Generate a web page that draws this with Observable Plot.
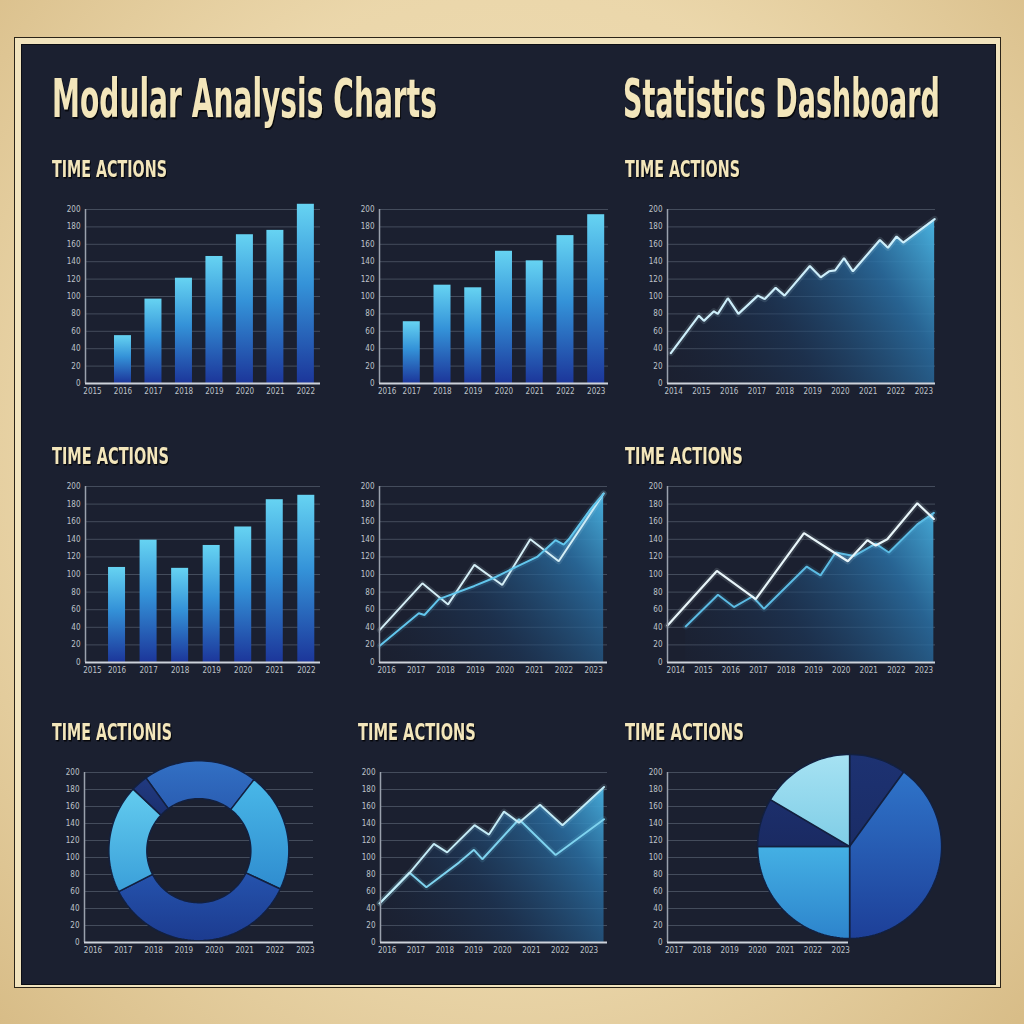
<!DOCTYPE html>
<html><head><meta charset="utf-8">
<script src="https://cdn.jsdelivr.net/npm/d3@7"></script>
<script src="https://cdn.jsdelivr.net/npm/@observablehq/plot@0.6"></script>
<style>
html,body{margin:0;padding:0;}
body{width:1024px;height:1024px;position:relative;overflow:hidden;background:#e6d1a4;}
#paper{position:absolute;left:0;top:0;width:1024px;height:1024px;
 background:radial-gradient(ellipse at 50% 45%, rgba(242,226,188,0.95) 0%, rgba(236,216,172,0.8) 60%, rgba(214,186,132,0.9) 100%), #e6d1a4;}
#outer{position:absolute;left:14px;top:37px;width:985px;height:949px;background:#f1e3bd;border:1.5px solid #2b2418;}
#panel{position:absolute;left:21px;top:44px;width:973px;height:939px;background:#1b2030;border:1.5px solid #0c0e14;}
.chart{position:absolute;}
#texts{position:absolute;left:0;top:0;pointer-events:none;}
</style></head>
<body>
<div id="paper"></div>
<div id="outer"></div>
<div id="panel"></div>
<script>
// ---------------- DATA ----------------
const titles = ["Modular Analysis Charts", "Statistics Dashboard"];
const headings = ["TIME ACTIONS", "TIME ACTIONS", "TIME ACTIONS", "TIME ACTIONS", "TIME ACTIONIS", "TIME ACTIONS", "TIME ACTIONS"];
const yTicks = [0, 20, 40, 60, 80, 100, 120, 140, 160, 180, 200];

const labels8a = ["2015", "2016", "2017", "2018", "2019", "2020", "2021", "2022"];
const labels8b = ["2016", "2017", "2018", "2019", "2020", "2021", "2022", "2023"];
const labels10 = ["2014", "2015", "2016", "2017", "2018", "2019", "2020", "2021", "2022", "2023"];
const labels7 = ["2017", "2018", "2019", "2020", "2021", "2022", "2023"];

// bar charts (bars sit at label positions 1..7)
const barPos = [1, 2, 3, 4, 5, 6, 7];
const bars1 = [55, 97, 121, 146, 171, 176, 206];
const bars2 = [71, 113, 110, 152, 141, 170, 194];
const bars4 = [108, 139, 107, 133, 154, 185, 190];

// line chart top-right
const line3T = [-0.1, 0.91, 1.09, 1.45, 1.59, 1.95, 2.33, 3.03, 3.28, 3.67, 3.99, 4.9, 5.29, 5.59, 5.81, 6.13, 6.45, 7.42, 7.71, 8.02, 8.26, 9.39];
const line3V = [35, 78, 72, 83, 80, 98, 80, 101, 97, 110, 101, 135, 122, 129, 130, 144, 129, 165, 156, 169, 162, 189];

// line chart middle
const line5aT = [-0.23, 1.21, 2.08, 2.97, 3.91, 4.86, 5.82, 7.34];
const line5aV = [37, 90, 66, 111, 88, 140, 115, 192];
const line5bT = [-0.23, 1.09, 1.28, 1.77, 2.97, 3.62, 4.47, 5.09, 5.71, 5.99, 6.16, 6.87, 7.34];
const line5bV = [19, 56, 54, 72, 87, 96, 110, 120, 139, 134, 140, 173, 192];

// line chart middle-right
const line6aT = [-0.3, 1.49, 2.9, 4.65, 5.74, 6.24, 6.95, 7.25, 7.67, 8.76, 9.36];
const line6aV = [42, 104, 72, 147, 125, 115, 139, 133, 140, 181, 163];
const line6bT = [0.36, 1.53, 2.11, 2.78, 3.2, 4.75, 5.25, 5.8, 6.46, 7.25, 7.73, 8.76, 9.36];
const line6bV = [41, 77, 63, 75, 61, 109, 99, 125, 121, 135, 125, 157, 170];

// line chart bottom-middle
const line8aT = [-0.26, 0.78, 1.62, 2.08, 3.03, 3.53, 4.05, 4.57, 5.3, 6.08, 7.52];
const line8aV = [46, 82, 116, 106, 138, 127, 154, 141, 162, 138, 183];
const line8bT = [-0.26, 0.78, 1.36, 2.49, 3.01, 3.3, 4.57, 5.84, 7.52];
const line8bV = [46, 82, 65, 94, 109, 98, 145, 103, 145];

// donut (percent shares, clockwise from start angle)
const donutShares = [20.5, 21.5, 35.5, 19.5, 3];
const donutColors = [["#3270c4", "#2a5db2"], ["#49b8e8", "#2f8ccf"], ["#2553ad", "#1c3b8f"], ["#63ccef", "#3a9fd9"], ["#213a80", "#1b3070"]];
// pie
const pieShares = [10, 40, 25, 8.5, 16.5];
const pieColors = [["#1d3272", "#1a2c66"], ["#2f74c9", "#1d3f98"], ["#44b0e4", "#2d84cc"], ["#1c2f6c", "#1a2a62"], ["#a6e2f3", "#7fcde6"]];

// ---------------- HELPERS ----------------
const svgNS = "http://www.w3.org/2000/svg";
const FONT = "'Liberation Sans Narrow','DejaVu Sans Condensed','Liberation Sans',sans-serif";
const toPts = (T, V) => T.map((t, i) => ({t, v: V[i]}));

function makeChart(cfg) {
  const [L, T, R, B] = cfg.frame;
  const ml = 44, mt = 14, mr = cfg.mr ?? 12, mb = 22;
  const width = R - L + ml + mr, height = B - T + mt + mb;
  const [x0, x1] = cfg.xDomain;
  const fx = {L: ml, R: width - mr, T: mt, B: height - mb, pxX: (R - L) / (x1 - x0), pxY: (B - T) / 200};
  const labelMap = new Map(cfg.xTicks.map((d, i) => [d, cfg.xLabels[i]]));
  const defsMark = () => {
    const g = document.createElementNS(svgNS, "g");
    g.innerHTML = `<defs>${cfg.defs ? cfg.defs(fx) : ""}</defs>`;
    return g;
  };
  const plot = Plot.plot({
    width, height,
    marginLeft: ml, marginTop: mt, marginRight: mr, marginBottom: mb,
    style: {background: "transparent", color: "#bfc3ca", fontFamily: FONT, fontSize: "8px", overflow: "visible"},
    x: {domain: cfg.xDomain, label: null},
    y: {domain: [0, 200], label: null},
    marks: [
      defsMark,
      Plot.gridY(yTicks, {stroke: "#444c5c", strokeOpacity: 1, strokeWidth: 1}),
      ...cfg.marks(fx),
      Plot.ruleX([x0], {stroke: "#9aa1ad", strokeWidth: 1.5}),
      Plot.ruleY([0], {stroke: "#cdd2da", strokeWidth: 2}),
      Plot.axisY(yTicks, {tickSize: 0, tickPadding: 5, fill: "#bfc3ca"}),
      Plot.axisX(cfg.xTicks, {tickSize: 0, tickPadding: 5, fill: "#bfc3ca", tickFormat: d => labelMap.get(d)})
    ]
  });
  const div = document.createElement("div");
  div.className = "chart";
  div.style.left = (L - ml) + "px";
  div.style.top = (T - mt) + "px";
  div.appendChild(plot);
  document.body.appendChild(div);
}

const barGrad = id => `<linearGradient id="bar-${id}" x1="0" y1="0" x2="0" y2="1">
  <stop offset="0" stop-color="#66d3f2"/><stop offset="0.45" stop-color="#3492d8"/><stop offset="1" stop-color="#1c369a"/></linearGradient>`;
const areaGrad = (id, fx) => `<linearGradient id="area-${id}" gradientUnits="userSpaceOnUse" x1="${fx.L}" y1="${fx.B}" x2="${fx.R}" y2="${fx.T}">
  <stop offset="0" stop-color="#1c2b45" stop-opacity="0"/><stop offset="0.4" stop-color="#1e4068" stop-opacity="0.5"/>
  <stop offset="0.75" stop-color="#2a6fa3" stop-opacity="0.85"/><stop offset="1" stop-color="#4cb9e6" stop-opacity="1"/></linearGradient>`;
const sliceGrads = (id, colors) => colors.map((c, i) => `<linearGradient id="sl-${id}-${i}" x1="0" y1="0" x2="0" y2="1">
  <stop offset="0" stop-color="${c[0]}"/><stop offset="1" stop-color="${c[1]}"/></linearGradient>`).join("");

function barMarks(id, values) {
  return fx => {
    const hw = 8.5 / fx.pxX;
    const data = values.map((v, i) => ({p: barPos[i], v}));
    return [Plot.rect(data, {x1: d => d.p - hw, x2: d => d.p + hw, y1: 0, y2: "v", fill: `url(#bar-${id})`})];
  };
}

function lineSet(line, color, width) {
  return [
    Plot.line(line, {x: "t", y: "v", stroke: color, strokeWidth: width + 4, strokeOpacity: 0.12}),
    Plot.line(line, {x: "t", y: "v", stroke: color, strokeWidth: width, strokeLinejoin: "miter"})
  ];
}

function arcPoly(cx, cy, r0, r1, a0, a1, fx) {
  const pts = [];
  const n = Math.max(2, Math.ceil((a1 - a0) / 2));
  const at = (r, a) => ({t: cx + r * Math.sin(a * Math.PI / 180) / fx.pxX, v: cy + r * Math.cos(a * Math.PI / 180) / fx.pxY});
  for (let k = 0; k <= n; k++) pts.push(at(r1, a0 + (a1 - a0) * k / n));
  if (r0 > 0) for (let k = n; k >= 0; k--) pts.push(at(r0, a0 + (a1 - a0) * k / n));
  else pts.push({t: cx, v: cy});
  return pts;
}

function ringMarks(id, shares, startAngle, cx, cy, r0, r1) {
  return fx => {
    const total = d3.sum(shares);
    let a = startAngle;
    return shares.map((s, i) => {
      const a0 = a, a1 = a + s / total * 360;
      a = a1;
      return Plot.line(arcPoly(cx, cy, r0, r1, a0, a1, fx), {
        x: "t", y: "v", fill: `url(#sl-${id}-${i})`, stroke: "#13203f", strokeWidth: 1.5, curve: "linear-closed"
      });
    });
  };
}

// ---------------- CHARTS ----------------
const t8 = [0, 1, 2, 3, 4, 5, 6, 7];
const t10 = [0, 1, 2, 3, 4, 5, 6, 7, 8, 9];

makeChart({frame: [85, 209, 320, 383], xDomain: [-0.23, 7.48], xTicks: t8, xLabels: labels8a,
  defs: () => barGrad("c1"), marks: barMarks("c1", bars1)});
makeChart({frame: [379, 209, 608, 383], xDomain: [-0.05, 7.4], xTicks: [0.2, 1, 2, 3, 4, 5, 6, 7], xLabels: labels8b,
  defs: () => barGrad("c2"), marks: barMarks("c2", bars2)});
makeChart({frame: [667, 209, 935, 383], xDomain: [-0.22, 9.42], xTicks: t10, xLabels: labels10,
  defs: fx => areaGrad("c3", fx),
  marks: () => {
    const d = toPts(line3T, line3V);
    return [Plot.areaY(d, {x: "t", y: "v", fill: "url(#area-c3)"}), ...lineSet(d, "#cdeefa", 2.2)];
  }});

makeChart({frame: [85, 486, 320, 662], xDomain: [0, 7.45], xTicks: [0.22, 1, 2, 3, 4, 5, 6, 7], xLabels: labels8a,
  defs: () => barGrad("c4"), marks: barMarks("c4", bars4)});
makeChart({frame: [379, 486, 607, 662], xDomain: [-0.24, 7.47], xTicks: t8, xLabels: labels8b,
  defs: fx => areaGrad("c5", fx),
  marks: () => {
    const a = toPts(line5aT, line5aV), b = toPts(line5bT, line5bV);
    return [Plot.areaY(b, {x: "t", y: "v", fill: "url(#area-c5)"}), ...lineSet(a, "#d4eef6", 2), ...lineSet(b, "#62c6ec", 2)];
  }});
makeChart({frame: [667, 486, 935, 662], xDomain: [-0.3, 9.42], xTicks: t10, xLabels: labels10,
  defs: fx => areaGrad("c6", fx),
  marks: () => {
    const a = toPts(line6aT, line6aV), b = toPts(line6bT, line6bV);
    return [Plot.areaY(b, {x: "t", y: "v", fill: "url(#area-c6)"}), ...lineSet(b, "#5cbbe3", 2), ...lineSet(a, "#e8f5f9", 2.2)];
  }});

makeChart({frame: [84, 772, 313, 942], xDomain: [-0.28, 7.27], xTicks: t8, xLabels: labels8b,
  defs: () => sliceGrads("c7", donutColors),
  marks: ringMarks("c7", donutShares, -36, 3.49, 108, 52, 90)});
makeChart({frame: [380, 772, 607, 942], xDomain: [-0.23, 7.64], xTicks: t8, xLabels: labels8b,
  defs: fx => areaGrad("c8", fx),
  marks: () => {
    const a = toPts(line8aT, line8aV), b = toPts(line8bT, line8bV);
    return [Plot.areaY(a, {x: "t", y: "v", fill: "url(#area-c8)"}), ...lineSet(b, "#7fd3ef", 2), ...lineSet(a, "#c4ebf6", 2)];
  }});
makeChart({frame: [667, 772, 848, 942], mr: 110, xDomain: [-0.24, 6.28], xTicks: [0, 1, 2, 3, 4, 5, 6], xLabels: labels7,
  defs: () => sliceGrads("c9", pieColors),
  marks: ringMarks("c9", pieShares, 0, 6.32, 113, 0, 92)});

// ---------------- TEXTS ----------------
const textSpecs = [
  {s: titles[0], x: 52, cap: 78, base: 117, w: 385},
  {s: titles[1], x: 623, cap: 78, base: 117, w: 317},
  {s: headings[0], x: 52, cap: 160, base: 177, w: 115},
  {s: headings[1], x: 625, cap: 160, base: 177, w: 115},
  {s: headings[2], x: 52, cap: 447, base: 464, w: 117},
  {s: headings[3], x: 625, cap: 447, base: 464, w: 118},
  {s: headings[4], x: 52, cap: 723, base: 740, w: 120},
  {s: headings[5], x: 358, cap: 723, base: 740, w: 118},
  {s: headings[6], x: 625, cap: 723, base: 740, w: 119}
];
const tsvg = document.createElementNS(svgNS, "svg");
tsvg.setAttribute("id", "texts");
tsvg.setAttribute("width", 1024);
tsvg.setAttribute("height", 1024);
document.body.appendChild(tsvg);
for (const sp of textSpecs) {
  const el = document.createElementNS(svgNS, "text");
  el.setAttribute("x", 0);
  el.setAttribute("y", 0);
  el.setAttribute("font-family", FONT);
  el.setAttribute("font-weight", "bold");
  el.setAttribute("font-size", 20);
  el.setAttribute("fill", "#f3e6bb");
  el.style.filter = "drop-shadow(1.5px 1.5px 0 #06070b)";
  el.textContent = sp.s;
  tsvg.appendChild(el);
  // fit natural width to target, then stretch vertically to the cap height
  const natural = el.getComputedTextLength();
  const fs = 20 * sp.w / natural;
  el.setAttribute("font-size", fs.toFixed(2));
  const sy = (sp.base - sp.cap) / (fs * 0.73);
  el.setAttribute("transform", `translate(${sp.x},${sp.base}) scale(1,${sy.toFixed(3)})`);
}
</script>
</body></html>
